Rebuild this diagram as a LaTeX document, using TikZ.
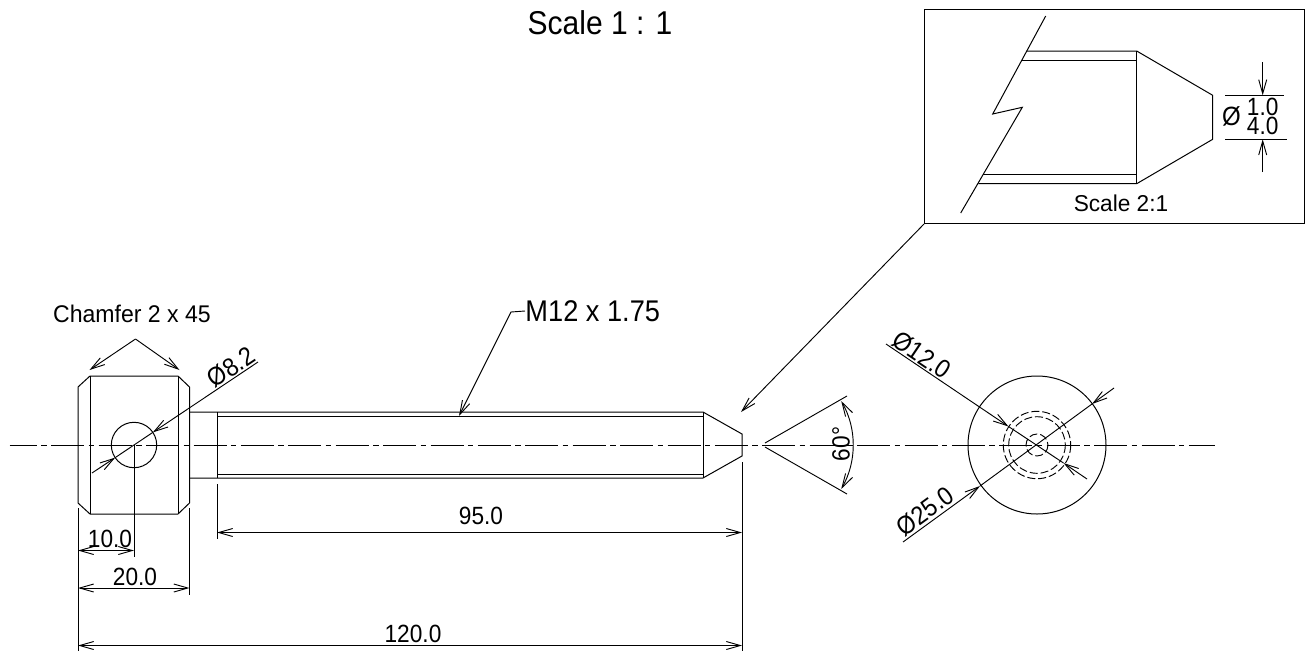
\documentclass[tikz,border=0pt]{standalone}
\usepackage{fontspec}
\setmainfont{Liberation Sans}
\usetikzlibrary{arrows.meta}

\tikzset{
    part/.style={line width=0.75pt, line join=miter},
    dim/.style={line width=0.7pt, >={Straight Barb[length=10.5pt, width=6pt]}},
    centerline/.style={line width=0.7pt, dash pattern=on 24.75pt off 3.3pt on 4.1pt off 3.4pt, dash phase=4.2pt},
    hidden/.style={line width=0.7pt, dash pattern=on 6pt off 2.2pt},
    dimtext/.style={inner sep=0pt, yscale=1.1, font=\fontsize{17pt}{20pt}\selectfont},
}

\begin{document}
\begin{tikzpicture}[x=0.75pt, y=-0.75pt]
    \useasboundingbox (0, 0) rectangle (1315, 651);
    % Title
    \node[dimtext, font=\fontsize{22.5pt}{26pt}\selectfont] (title) at (600, 23) {Scale 1 : 1};
    % Center line
    \coordinate (axisL) at (9.5, 445);
    \coordinate (axisR) at (1215, 445);
    \draw[centerline] (axisL) -- (axisR);
    % Head
    \begin{scope}[part]
        \draw (90, 376) -- (178, 376) -- (189.5, 387) -- (189.5, 503) -- (178, 514)
            -- (90, 514) -- (78, 503) -- (78, 387) -- cycle;
        \draw (90, 376) -- (90, 514);
        \draw (178, 376) -- (178, 514);
        \coordinate (hole) at (134, 445);
        \draw (hole) circle (22.7);
    \end{scope}
    % Threaded shank
    \begin{scope}[part]
        \draw (189.5, 412) -- (703, 412) -- (742, 434) -- (742, 456) -- (703, 478) -- (189.5, 478);
        \draw (217, 412) -- (217, 478);
        \draw (703, 412) -- (703, 478);
        \draw (217, 416.5) -- (703, 416.5);
        \draw (217, 474) -- (703, 474);
    \end{scope}
    % End view
    \begin{scope}[part]
        \coordinate (hub) at (1037, 445);
        \draw (hub) circle (69);
        \draw[hidden] (hub) circle (33.7);
        \draw[hidden] (hub) circle (28.3);
        \draw[hidden] (hub) circle (11);
    \end{scope}
    \begin{scope}[dim]
        % Extension lines
        \draw (78, 508) -- (78, 651);
        \draw (189.5, 508) -- (189.5, 595);
        \draw (hole) -- (134, 557);
        \draw (217, 484) -- (217, 539);
        \draw (742, 462) -- (742, 651);
        % Linear dimensions
        \draw[<->] (78, 550.5) -- (134, 550.5);
        \node[dimtext] (dimTen) at (110, 539) {10.0};
        \draw[<->] (78, 588) -- (189.5, 588);
        \node[dimtext] (dimTwenty) at (135, 577) {20.0};
        \draw[<->] (217, 532.5) -- (742, 532.5);
        \node[dimtext] (dimNinetyFive) at (481, 516) {95.0};
        \draw[<->] (78, 645.5) -- (742, 645.5);
        \node[dimtext] (dimTotal) at (413, 634) {120.0};
        % Chamfer
        \node[dimtext, yscale=0.95, font=\fontsize{17.3pt}{20pt}\selectfont] (chamfer) at (132, 314) {Chamfer 2 x 45};
        \coordinate (chamferTop) at (135.5, 339);
        \draw[->] (chamferTop) -- (89.5, 370);
        \draw[->] (chamferTop) -- (179.5, 370);
        % Hole diameter
        \coordinate (holeA) at (115.2, 457.6);
        \coordinate (holeB) at (152.8, 432.4);
        \draw[->] (92, 473) -- (holeA);
        \draw[->] (258, 362) -- (holeB);
        \draw (holeA) -- (holeB);
        \node[rotate=34, dimtext, font=\fontsize{17.6pt}{20pt}\selectfont] (dimHole) at (231, 367) {Ø8.2};
        % Thread callout
        \node[dimtext, anchor=west, font=\fontsize{20.4pt}{24pt}\selectfont] (thread) at (525, 311) {M12 x 1.75};
        \coordinate (threadKnee) at (511, 312);
        \draw[->] (thread.west) -- (threadKnee) -- (459, 416);
        % Cone angle
        \coordinate (coneApex) at (765, 445);
        \draw (coneApex) ++(0, -2) -- (847, 396);
        \draw (coneApex) ++(0, 2) -- (847, 494);
        \draw[<->] (841.2, 401) arc[start angle=-30, end angle=30, radius=88];
        \node[rotate=90, dimtext] (dimAngle) at (841, 444) {60°};
        % End view diameters
        \coordinate (innerA) at (1008.5, 426.5);
        \coordinate (innerB) at (1063.5, 463);
        \draw[->] (886, 344) -- (innerA);
        \draw[->] (1087, 479) -- (innerB);
        \draw (innerA) -- (innerB);
        \node[rotate=-34, dimtext, font=\fontsize{17.6pt}{20pt}\selectfont] (dimInner) at (922, 355) {Ø12.0};
        \coordinate (outerA) at (980, 486);
        \coordinate (outerB) at (1092, 404);
        \draw[->] (903, 542) -- (outerA);
        \draw[->] (1114, 388) -- (outerB);
        \draw (outerA) -- (outerB);
        \node[rotate=36, dimtext, font=\fontsize{17.6pt}{20pt}\selectfont] (dimOuter) at (925, 511) {Ø25.0};
    \end{scope}
    % Detail box
    \node[draw, part, minimum width=285pt, minimum height=160.5pt, inner sep=0pt, anchor=north west] (detail) at (924, 9) {};
    \draw[dim, ->] (detail.south west) -- (741, 412);
    \begin{scope}[part]
        \draw (1045.7, 16) -- (992.7, 114) -- (1022.3, 107.3) -- (960.7, 213);
        \draw (1026.7, 51) -- (1136.7, 51) -- (1212.7, 95.3) -- (1212.7, 139.3) -- (1136.7, 183.7) -- (978.3, 183.7);
        \draw (1021.7, 60.5) -- (1136.7, 60.5);
        \draw (983, 174.5) -- (1136.7, 174.5);
        \draw (1136.7, 51) -- (1136.7, 183.7);
    \end{scope}
    \begin{scope}[dim]
        \draw (1225, 95.3) -- (1284, 95.3);
        \draw (1225, 139.3) -- (1287, 139.3);
        \draw[->] (1262.7, 62) -- (1262.7, 95.3);
        \draw[->] (1262.7, 172) -- (1262.7, 139.3);
        \node[dimtext, font=\fontsize{18pt}{20pt}\selectfont] (detailPhi) at (1231.5, 116.5) {Ø};
        \node[dimtext] (detailMin) at (1262.7, 107) {1.0};
        \node[dimtext] (detailMax) at (1262.7, 126) {4.0};
        \node[dimtext, yscale=0.92] (detailScale) at (1121, 203) {Scale 2:1};
    \end{scope}
\end{tikzpicture}
\end{document}
